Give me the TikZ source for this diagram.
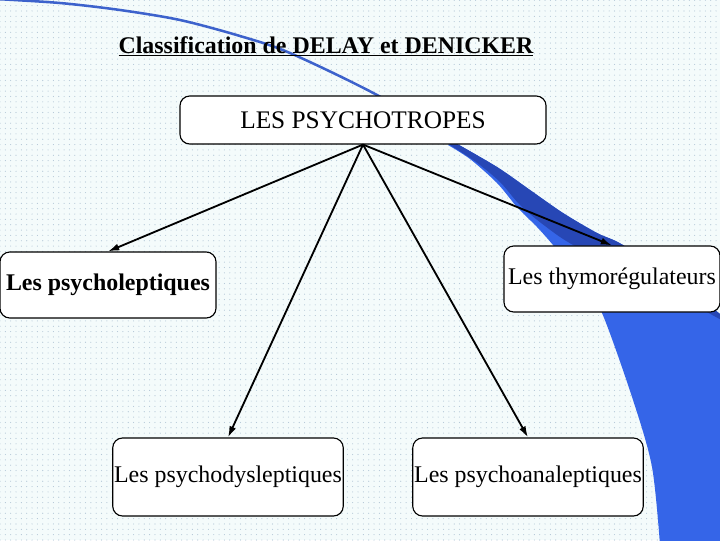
\documentclass[tikz,border=0pt]{standalone}
\usepackage{fontspec}
\setmainfont{Liberation Serif}
\usetikzlibrary{arrows.meta,positioning,patterns.meta}

\definecolor{fondbleu}{HTML}{F4FBFB}
\definecolor{pointbleu}{HTML}{B2C6D6}
\definecolor{vifbleu}{HTML}{3565E8}
\definecolor{sombrebleu}{HTML}{2747B5}
\definecolor{traitbleu}{HTML}{3D62CC}

\begin{document}
\begin{tikzpicture}[
        x=0.025cm,
        y=-0.025cm,
        >={Latex[length=8pt,width=5pt]},
        box/.style={
            draw,
            line width=0.8pt,
            fill=white,
            rounded corners=7pt,
            align=center,
            inner sep=1pt,
            font=\fontsize{17}{20}\selectfont
        },
        fleche/.style={->, line width=1.3pt}
    ]
    \useasboundingbox (0,0) rectangle (720,540);

    % fond pointille
    \fill[fondbleu] (0,0) rectangle (720,540);
    \fill[pattern={Dots[distance=3.8pt,radius=0.4pt]}, pattern color=pointbleu]
        (0,0) rectangle (720,540);

    % vague bleue
    \begin{scope}
        \clip (0,0) rectangle (720,540);
        \draw[traitbleu, line width=1.8pt]
            plot[smooth] coordinates {(-4,-1) (60,3) (120,10) (180,20) (240,36) (290,53) (377,95) (455,142)};
        \fill[vifbleu]
            plot[smooth] coordinates {(448,145) (470,159) (497,183) (517,207) (537,227) (553,245) (580,278) (602,313) (633,400) (652,467) (660,545)}
            -- (730,545) -- (730,318)
            -- plot[smooth] coordinates {(725,318) (680,283) (623,245) (597,233) (563,213) (530,190) (497,167) (452,141)}
            -- cycle;
        \fill[sombrebleu]
            plot[smooth] coordinates {(452,141) (497,167) (530,190) (563,213) (597,233) (623,245) (680,283) (725,318)}
            -- plot[smooth] coordinates {(725,322) (640,276) (575,246) (545,226) (520,205) (500,182) (476,162) (450,145)}
            -- cycle;
    \end{scope}

    % titre
    \node[font=\fontsize{17}{20}\selectfont\bfseries, anchor=base] (titre) at (326,53)
        {\underline{Classification de DELAY et DENICKER}};

    % boites
    \node[box, minimum width=9.15cm, minimum height=1.2cm, font=\fontsize{18}{21}\selectfont] (psy) at (363,120) {LES PSYCHOTROPES};
    \node[box, minimum width=5.4cm, minimum height=1.65cm, font=\fontsize{17}{20}\selectfont\bfseries] (lepto) at (108,285) {Les psycholeptiques};
    \node[box, minimum width=5.4cm, minimum height=1.65cm] (thymo) at (612,279) {Les thymorégulateurs};
    \node[box, minimum width=5.7cm, minimum height=1.95cm] (dysl) at (228,477) {Les psychodysleptiques};
    \node[box, minimum width=5.7cm, minimum height=1.95cm] (analep) at (528,477) {Les psychoanaleptiques};

    % fleches
    \draw[fleche] (psy.south) -- (lepto.north);
    \draw[fleche] (psy.south) -- (dysl.north);
    \draw[fleche] (psy.south) -- (analep.north);
    \draw[fleche] (psy.south) -- (thymo.north);
\end{tikzpicture}
\end{document}
